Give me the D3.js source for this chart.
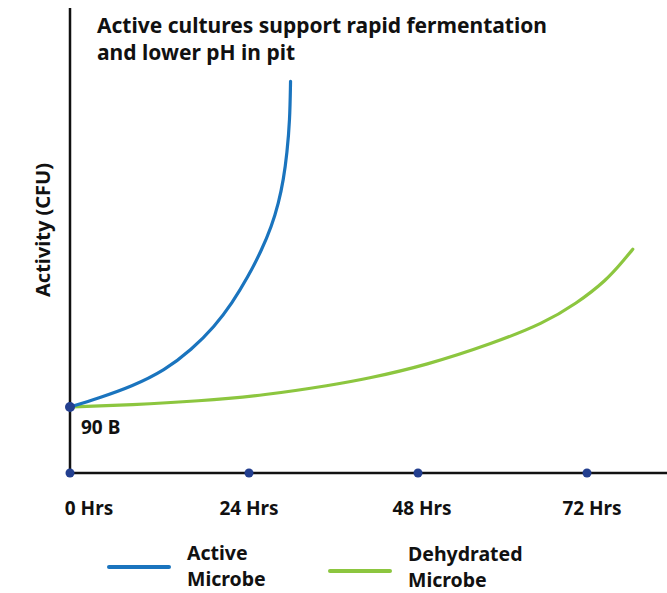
<!DOCTYPE html>
<html>
<head>
<meta charset="utf-8">
<script src="https://cdn.jsdelivr.net/npm/d3@7"></script>
<style>
  body { margin: 0; background: #fff; }
  text { font-family: "Noto Sans", "Open Sans", sans-serif; font-weight: 700; fill: #111; }
</style>
</head>
<body>
<svg id="chart" width="667" height="593"></svg>
<script>
// hours on the x axis, activity in billions CFU (only 90 B is labelled)
const hourTicks = [0, 24, 48, 72];
const hourLabels = ["0 Hrs", "24 Hrs", "48 Hrs", "72 Hrs"];

const activeHours = [0, 3.8, 8.3, 12.7, 16.3, 19.4, 21.7, 23.9, 25.8, 27.2, 28.2, 28.9, 29.4, 29.8, 29.9];
const activeValues = [90, 102, 118, 140, 168, 200, 231, 268, 304, 336, 368, 400, 436, 481, 534];

const dehydratedHours = [0, 8.3, 17.2, 26.3, 35.8, 40.5, 49.2, 58.7, 65.8, 70.5, 74.8, 77.2, 78.5];
const dehydratedValues = [90, 93, 98, 106, 120, 128, 147, 177, 204, 231, 263, 290, 305];

const startValue = 90;
const startLabel = "90 B";

const seriesNames = [["Active", "Microbe"], ["Dehydrated", "Microbe"]];
const colors = ["#1a74be", "#8cc63f"];

const svg = d3.select("#chart");

// tick spacing in the picture is not even, so the x scale is polylinear
const x = d3.scaleLinear()
  .domain(hourTicks)
  .range([70, 249, 418, 587]);
const y = d3.scaleLinear()
  .domain([0, 634])
  .range([473, 8]);

// axes
svg.append("line")
  .attr("x1", x(0)).attr("x2", x(0))
  .attr("y1", y(634)).attr("y2", y(0))
  .attr("stroke", "#111").attr("stroke-width", 2.5);
svg.append("line")
  .attr("x1", x(0)).attr("x2", 667)
  .attr("y1", y(0)).attr("y2", y(0))
  .attr("stroke", "#111").attr("stroke-width", 2.5);

// title
const title = svg.append("text")
  .attr("x", 97).attr("y", 33)
  .style("font-size", "21px");
title.append("tspan").attr("x", 97).attr("dy", 0).text("Active cultures support rapid fermentation");
title.append("tspan").attr("x", 97).attr("dy", 27).text("and lower pH in pit");

// y label
svg.append("text")
  .attr("transform", "translate(50,230) rotate(-90)")
  .attr("text-anchor", "middle")
  .style("font-size", "20px")
  .text("Activity (CFU)");

// curves
const line = d3.line()
  .x(d => x(d[0]))
  .y(d => y(d[1]))
  .curve(d3.curveBasis);

const series = [
  d3.zip(activeHours, activeValues),
  d3.zip(dehydratedHours, dehydratedValues)
];

svg.selectAll(".series")
  .data(series.slice().reverse())
  .enter().append("path")
  .attr("class", "series")
  .attr("d", line)
  .attr("fill", "none")
  .attr("stroke", (d, i) => colors[series.length - 1 - i])
  .attr("stroke-width", 3.2)
  .attr("stroke-linecap", "round");

// tick dots and labels
svg.selectAll(".tick-dot")
  .data(hourTicks)
  .enter().append("circle")
  .attr("cx", d => x(d))
  .attr("cy", y(0))
  .attr("r", 4.5)
  .attr("fill", "#233f8f");

const labelShift = [19, 0, 4, 5];
svg.selectAll(".tick-label")
  .data(hourTicks)
  .enter().append("text")
  .attr("x", (d, i) => x(d) + labelShift[i])
  .attr("y", 515)
  .attr("text-anchor", "middle")
  .style("font-size", "19px")
  .text((d, i) => hourLabels[i]);

// start point
svg.append("circle")
  .attr("cx", x(0)).attr("cy", y(startValue))
  .attr("r", 5)
  .attr("fill", "#233f8f");
svg.append("text")
  .attr("x", x(0) + 11).attr("y", y(startValue) + 27)
  .style("font-size", "19px")
  .text(startLabel);

// legend
const legendX = [109, 330];
const legendY = [567, 571];
const legendText = [[560, 586], [561, 587]];
const legend = svg.selectAll(".legend")
  .data(seriesNames)
  .enter().append("g")
  .attr("class", "legend");
legend.append("line")
  .attr("x1", (d, i) => legendX[i])
  .attr("x2", (d, i) => legendX[i] + 60)
  .attr("y1", (d, i) => legendY[i])
  .attr("y2", (d, i) => legendY[i])
  .attr("stroke", (d, i) => colors[i])
  .attr("stroke-width", 4)
  .attr("stroke-linecap", "round");
legend.append("text")
  .attr("x", (d, i) => legendX[i] + 78)
  .attr("y", (d, i) => legendText[i][0])
  .style("font-size", "19.5px")
  .text(d => d[0]);
legend.append("text")
  .attr("x", (d, i) => legendX[i] + 78)
  .attr("y", (d, i) => legendText[i][1])
  .style("font-size", "19.5px")
  .text(d => d[1]);
</script>
</body>
</html>
